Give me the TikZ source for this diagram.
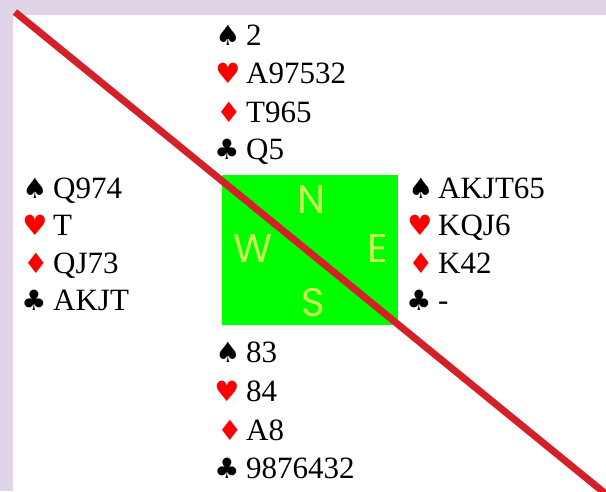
\documentclass[tikz,border=0pt]{standalone}
\usepackage{fontspec}
\setmainfont{Liberation Serif}
\newfontfamily\suitfont{DejaVu Sans}
\newfontfamily\compassfont{Poppins}
\usetikzlibrary{positioning}
\definecolor{lilac}{RGB}{224,212,232}
\definecolor{slash}{RGB}{211,32,41}
\definecolor{felt}{RGB}{0,255,0}
\definecolor{compass}{RGB}{200,238,90}

\begin{document}
\begin{tikzpicture}[x=1pt,y=-1pt]
\tikzset{S/.style={inner sep=0,anchor=base,font=\suitfont\fontsize{28}{28}\selectfont},
  R/.style={S,text=red},
  H/.style={inner sep=0,anchor=base west,font=\fontsize{31}{31}\selectfont},
  D/.style={inner sep=0,font=\compassfont\fontsize{40}{40}\selectfont,text=compass}}

  \useasboundingbox (0,0) rectangle (606,491);
  \fill[lilac] (0,0) rectangle (606,491);
  \fill[white] (13,15) rectangle (606,491);
  \fill[felt] (222,175) rectangle (398,325);

  % compass
  \node[D] (N) at (312,200) {N};
  \node[D] (W) at (253,249) {W};
  \node[D] (E) at (378,249) {E};
  \node[D] (S) at (313,303) {S};

  % north
  \node[S] (ns) at (228,45)  {♠};  \node[H] (ns-c) at (246,45)  {2};
  \node[R] (nh) at (228,83)  {♥};  \node[H] (nh-c) at (246,83)  {A97532};
  \node[R] (nd) at (229,122) {♦};  \node[H] (nd-c) at (246,122) {T965};
  \node[S] (nc) at (227,159) {♣};  \node[H] (nc-c) at (246,159) {Q5};

  % west
  \node[S] (ws) at (35,198)  {♠};  \node[H] (ws-c) at (53,198)  {Q974};
  \node[R] (wh) at (35,235)  {♥};  \node[H] (wh-c) at (53,235)  {T};
  \node[R] (wd) at (36,273)  {♦};  \node[H] (wd-c) at (53,273)  {QJ73};
  \node[S] (wc) at (34,310)  {♣};  \node[H] (wc-c) at (53,310)  {AKJT};

  % east
  \node[S] (es) at (421,198) {♠};  \node[H] (es-c) at (438,198) {AKJT65};
  \node[R] (eh) at (420,235) {♥};  \node[H] (eh-c) at (438,235) {KQJ6};
  \node[R] (ed) at (421,273) {♦};  \node[H] (ed-c) at (438,273) {K42};
  \node[S] (ec) at (419,310) {♣};  \node[H] (ec-c) at (438,310) {-};

  % south
  \node[S] (ss) at (228,362) {♠};  \node[H] (ss-c) at (246,362) {83};
  \node[R] (sh) at (227,401) {♥};  \node[H] (sh-c) at (246,401) {84};
  \node[R] (sd) at (230,440) {♦};  \node[H] (sd-c) at (246,440) {A8};
  \node[S] (sc) at (227,478) {♣};  \node[H] (sc-c) at (246,478) {9876432};

  % the slash
  \clip (0,0) rectangle (606,491);
  \coordinate (from) at (15,12);
  \coordinate (to) at (612,499);
  \draw[slash,line width=7pt] (from) -- (to);
\end{tikzpicture}
\end{document}
